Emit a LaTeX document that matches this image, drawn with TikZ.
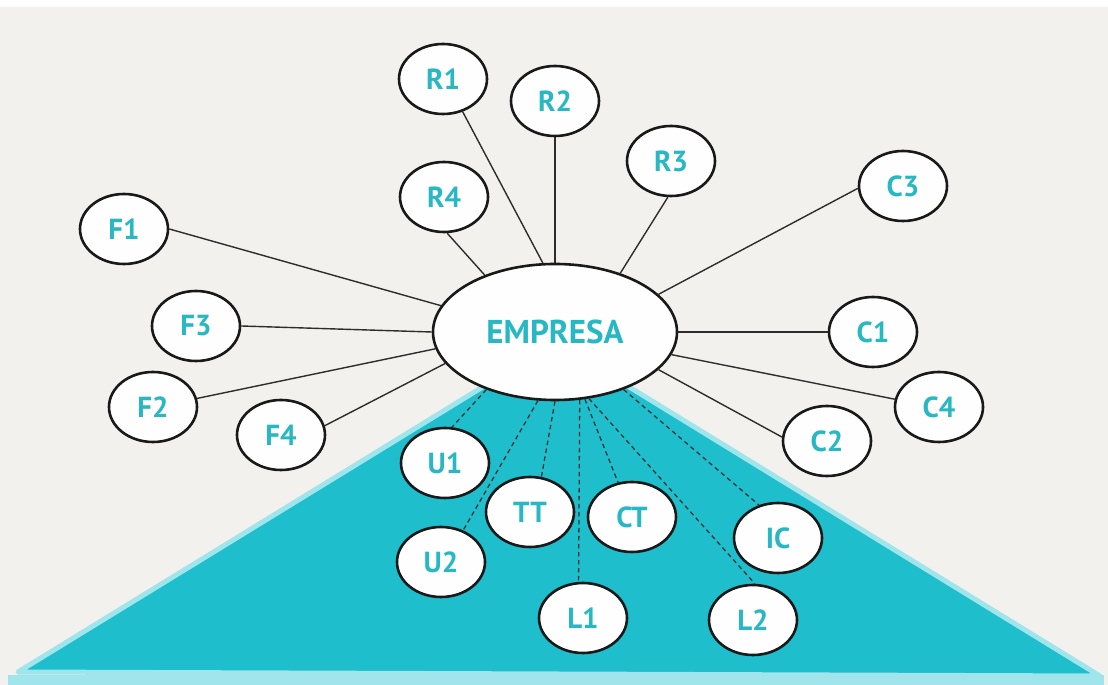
\documentclass[tikz,border=0pt]{standalone}
\usepackage{fontspec}
\setmainfont{PT Sans}
\usetikzlibrary{shapes.geometric}
\definecolor{bgpaper}{RGB}{242,241,238}
\definecolor{tealfill}{RGB}{30,190,205}
\definecolor{tealrim}{RGB}{160,228,236}
\definecolor{labeltext}{RGB}{40,184,196}
\definecolor{linegray}{RGB}{45,45,45}
\tikzset{
  bubble/.style={ellipse, draw=black!90, line width=2.6pt, fill=white!96!bgpaper,
    minimum width=88pt, minimum height=70pt, inner sep=0pt,
    text=labeltext, font=\fontsize{29}{29}\selectfont\bfseries},
  hub/.style={bubble, minimum width=244pt, minimum height=136pt,
    font=\fontsize{33}{33}\selectfont\bfseries},
  solidlink/.style={draw=linegray, line width=1.4pt},
  dashlink/.style={draw=black!80, line width=1.3pt, dash pattern=on 4.5pt off 3.5pt}
}
\begin{document}
\begin{tikzpicture}[x=1pt,y=1pt]
\useasboundingbox (0,0) rectangle (1108,685);
\fill[bgpaper] (0,0) rectangle (1108,678);
\fill[white] (0,678) rectangle (1108,685);
\fill[tealrim] (8,0) rectangle (1104,10);
% triangle
\fill[tealfill, draw=tealrim, line width=5pt, line join=round] (556,343) -- (1100,9) -- (18,13) -- cycle;
% nodes
\node[hub] (E) at (555,353) {EMPRESA};
\node[bubble] (R1) at (443,606) {R1};
\node[bubble] (R2) at (555,584) {R2};
\node[bubble] (R3) at (671,524) {R3};
\node[bubble] (R4) at (444,488) {R4};
\node[bubble] (F1) at (124,456) {F1};
\node[bubble] (F3) at (196,359) {F3};
\node[bubble] (F2) at (153,278) {F2};
\node[bubble] (F4) at (281,250) {F4};
\node[bubble] (C3) at (903,499) {C3};
\node[bubble] (C1) at (873,353) {C1};
\node[bubble] (C4) at (939,278) {C4};
\node[bubble] (C2) at (827,244) {C2};
\node[bubble] (U1) at (445,222) {U1};
\node[bubble] (TT) at (530,173) {TT};
\node[bubble] (CT) at (632,168) {CT};
\node[bubble] (IC) at (778,147) {IC};
\node[bubble] (U2) at (441,123) {U2};
\node[bubble] (L1) at (583,67) {L1};
\node[bubble] (L2) at (753,65) {L2};
% solid links
\draw[solidlink] (F1.0) -- (E.167);
\draw[solidlink] (F3.0) -- (E.180);
\draw[solidlink] (F2.11) -- (E.188);
\draw[solidlink] (F4.12) -- (E.196);
\draw[solidlink] (R4.275) -- (E.141);
\draw[solidlink] (R1.301) -- (E.100);
\draw[solidlink] (R2.270) -- (E.90);
\draw[solidlink] (R3.265) -- (E.42);
\draw[solidlink] (C3.183) -- (E.20);
\draw[solidlink] (C1.180) -- (E.0);
\draw[solidlink] (C4.170) -- (E.349);
\draw[solidlink] (C2.175) -- (E.340);
% dashed links
\draw[dashlink] (E.220) -- (U1.79);
\draw[dashlink] (E.256) -- (U2.55);
\draw[dashlink] (E.270) -- (TT.72);
\draw[dashlink] (E.290) -- (L1.97);
\draw[dashlink] (E.294) -- (CT.112);
\draw[dashlink] (E.297) -- (L2.87);
\draw[dashlink] (E.320) -- (IC.120);
\end{tikzpicture}
\end{document}
